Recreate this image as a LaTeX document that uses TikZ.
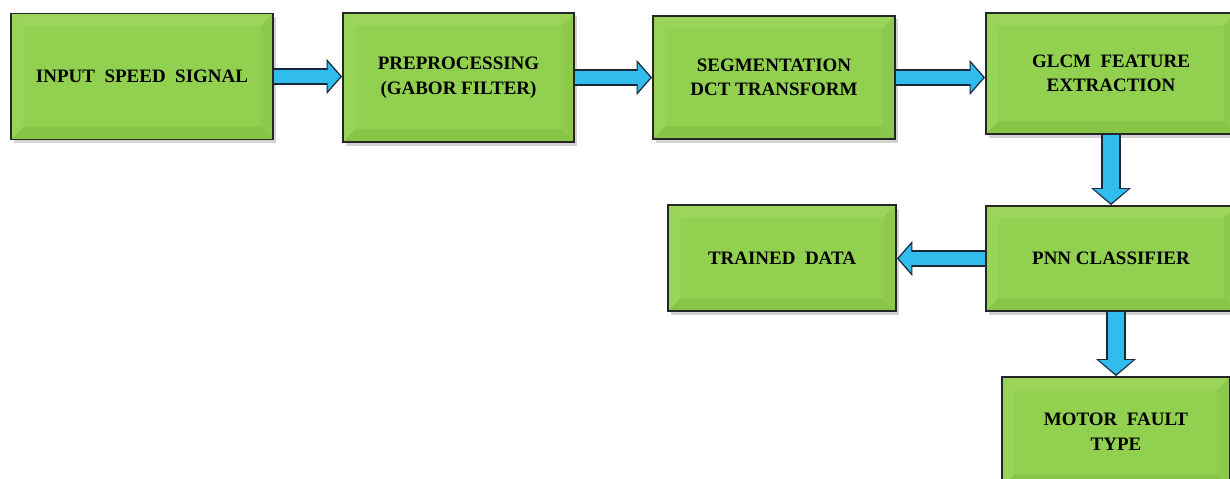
\documentclass[tikz,border=0pt]{standalone}
\usepackage{fontspec}
\setmainfont{Liberation Serif}
\usetikzlibrary{arrows.meta}
\usetikzlibrary{shadows}
\tikzstyle{blk} = [draw=black!85, line width=1.3pt, fill=boxgreen, inner sep=4pt, align=center,
  font=\bfseries\fontsize{13.5}{17.5}\selectfont,
  drop shadow={shadow xshift=2pt, shadow yshift=-2.5pt, opacity=0.35},
  path picture={
    \fill[boxtop] (path picture bounding box.north west) -- (path picture bounding box.north east)
      -- ([shift={(-9pt,-9pt)}]path picture bounding box.north east) -- ([shift={(9pt,-9pt)}]path picture bounding box.north west) -- cycle;
    \fill[boxleft] (path picture bounding box.north west) -- (path picture bounding box.south west)
      -- ([shift={(9pt,9pt)}]path picture bounding box.south west) -- ([shift={(9pt,-9pt)}]path picture bounding box.north west) -- cycle;
    \fill[boxbot] (path picture bounding box.south west) -- (path picture bounding box.south east)
      -- ([shift={(-9pt,9pt)}]path picture bounding box.south east) -- ([shift={(9pt,9pt)}]path picture bounding box.south west) -- cycle;
    \fill[boxright] (path picture bounding box.north east) -- (path picture bounding box.south east)
      -- ([shift={(-9pt,9pt)}]path picture bounding box.south east) -- ([shift={(-9pt,-9pt)}]path picture bounding box.north east) -- cycle;
  }]
\tikzstyle{hflow} = [draw=arrowblue, line width=9pt, -{Triangle[length=9pt,width=20pt]}, shorten >=1.3pt,
  preaction={draw=arrowline, line width=11.6pt, -{Triangle[length=11pt,width=24.5pt]}, shorten >=0pt}]
\tikzstyle{vflow} = [draw=arrowblue, line width=11.5pt, -{Triangle[length=10pt,width=23.5pt]}, shorten >=1.3pt,
  preaction={draw=arrowline, line width=14pt, -{Triangle[length=12pt,width=27.5pt]}, shorten >=0pt}]

\begin{document}
\begin{tikzpicture}[x=0.025cm, y=-0.025cm]
\definecolor{boxgreen}{HTML}{92D050}
\definecolor{boxtop}{HTML}{9BD55C}
\definecolor{boxleft}{HTML}{98D458}
\definecolor{boxbot}{HTML}{88C547}
\definecolor{boxright}{HTML}{8DCA4B}
\definecolor{arrowblue}{HTML}{30BCEC}
\definecolor{arrowline}{HTML}{18283A}

\useasboundingbox (0,0) rectangle (1230,479);
\clip (0,0) rectangle (1230,479);

\node[blk, minimum width=6.55cm, minimum height=3.15cm] (b_1) at (142,76.5) {INPUT\ \ SPEED\ \ SIGNAL};
\node[blk, minimum width=5.775cm, minimum height=3.225cm] (b_2) at (458.5,77.5) {PREPROCESSING\\(GABOR FILTER)};
\node[blk, minimum width=6.05cm, minimum height=3.075cm] (b_3) at (774,77.5) {SEGMENTATION\\DCT TRANSFORM};
\node[blk, minimum width=6.25cm, minimum height=3.025cm] (b_4) at (1111,73.5) {GLCM\ \ FEATURE\\EXTRACTION};
\node[blk, minimum width=6.25cm, minimum height=2.625cm] (b_5) at (1111,258.5) {PNN CLASSIFIER};
\node[blk, minimum width=5.7cm, minimum height=2.65cm] (b_6) at (782,258) {TRAINED\ \ DATA};
\node[blk, minimum width=5.7cm, minimum height=2.75cm] (b_7) at (1116,432) {MOTOR\ \ FAULT\\TYPE};

\draw[hflow] (b_1.east) -- (b_2.west |- b_1.east);
\draw[hflow] (b_2.east) -- (b_3.west |- b_2.east);
\draw[hflow] (b_3.east) -- (b_4.west |- b_3.east);
\draw[vflow] (b_4.south) -- (b_5.north);
\draw[hflow] (b_5.west) -- (b_6.east |- b_5.west);
\draw[vflow] (b_5.south -| b_7.north) -- (b_7.north);

\end{tikzpicture}
\end{document}
